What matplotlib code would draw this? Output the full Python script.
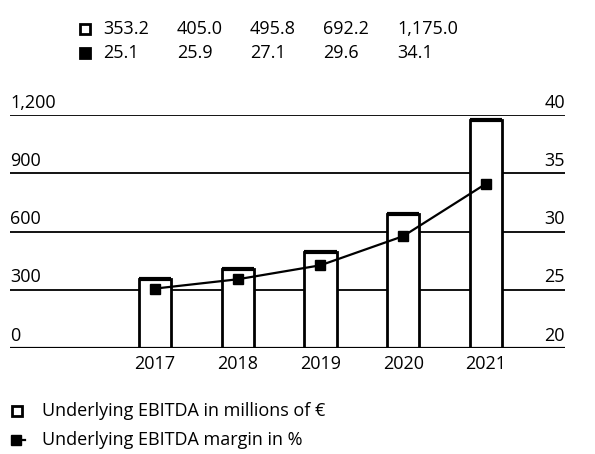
import matplotlib.pyplot as plt
from matplotlib.lines import Line2D
from matplotlib.transforms import blended_transform_factory

plt.rcParams['font.family'] = ['Open Sans', 'DejaVu Sans']

years = ['2017', '2018', '2019', '2020', '2021']
ebitda = [353.2, 405.0, 495.8, 692.2, 1175.0]
margin = [25.1, 25.9, 27.1, 29.6, 34.1]
ebitda_labels = ['353.2', '405.0', '495.8', '692.2', '1,175.0']
margin_labels = ['25.1', '25.9', '27.1', '29.6', '34.1']
left_ticks = [0, 300, 600, 900, 1200]
left_ticklabels = ['0', '300', '600', '900', '1,200']
right_ticks = [20, 25, 30, 35, 40]

W, H = 595, 454
FS = 13
fig = plt.figure(figsize=(W / 100, H / 100), dpi=100)

def fx(px):
    return px / W

def fy(py):
    return 1 - py / H

ax = fig.add_axes([fx(10), fy(348), fx(555), 233 / H])
ax2 = ax.twinx()

x = list(range(len(years)))
ax.set_xlim(-1.752, 4.955)
ax.set_ylim(0, 1200)
ax2.set_ylim(20, 40)

for a in (ax, ax2):
    for s in a.spines.values():
        s.set_visible(False)
    a.set_yticks([])
    a.tick_params(axis='x', length=0)

# grid lines
for t in left_ticks:
    ax.axhline(t, color='black', lw=1.3, zorder=1)

bw = 0.39
ax.bar(x, ebitda, width=bw, color='white', edgecolor='black', lw=2.0, zorder=2)
for xi, v in zip(x, ebitda):
    ax.hlines(v, xi - bw / 2, xi + bw / 2, color='black', lw=3.0, zorder=3)
ax.axhline(0, color='black', lw=1.6, zorder=3)

ax2.plot(x, margin, color='black', lw=1.6, marker='s', markersize=7, zorder=4)
ax2.set_zorder(ax.get_zorder() + 1)
ax2.patch.set_visible(False)

ax.set_xticks(x)
ax.set_xticklabels(years, fontsize=FS)
ax.tick_params(axis='x', pad=5)

tl = blended_transform_factory(ax.transAxes, ax.transData)
for t, lab in zip(left_ticks, left_ticklabels):
    ax.text(0, t + 18, lab, transform=tl, ha='left', va='bottom', fontsize=FS)
tr = blended_transform_factory(ax2.transAxes, ax2.transData)
for t in right_ticks:
    ax2.text(1, t + 0.3, str(t), transform=tr, ha='right', va='bottom', fontsize=FS)

# value table on top
cols = [103, 177, 250, 323, 397]
for py, labels, filled in ((29, ebitda_labels, False), (53, margin_labels, True)):
    fig.add_artist(Line2D([fx(85)], [fy(py)], marker='s', markersize=6.5,
                          markerfacecolor='black' if filled else 'white',
                          markeredgecolor='black', markeredgewidth=2, lw=0))
    for cx, lab in zip(cols, labels):
        fig.text(fx(cx), fy(py), lab, ha='left', va='center', fontsize=FS)

# legend at the bottom
fig.add_artist(Line2D([fx(17)], [fy(411)], marker='s', markersize=6.5,
                      markerfacecolor='white', markeredgecolor='black',
                      markeredgewidth=2, lw=0))
fig.text(fx(42), fy(411), 'Underlying EBITDA in millions of €', ha='left', va='center', fontsize=FS)
fig.add_artist(Line2D([fx(17), fx(25)], [fy(440), fy(440)], color='black', lw=1.6))
fig.add_artist(Line2D([fx(16)], [fy(440)], marker='s', markersize=7,
                      color='black', lw=0))
fig.text(fx(42), fy(440), 'Underlying EBITDA margin in %', ha='left', va='center', fontsize=FS)

fig.savefig('out.png', dpi=100)
